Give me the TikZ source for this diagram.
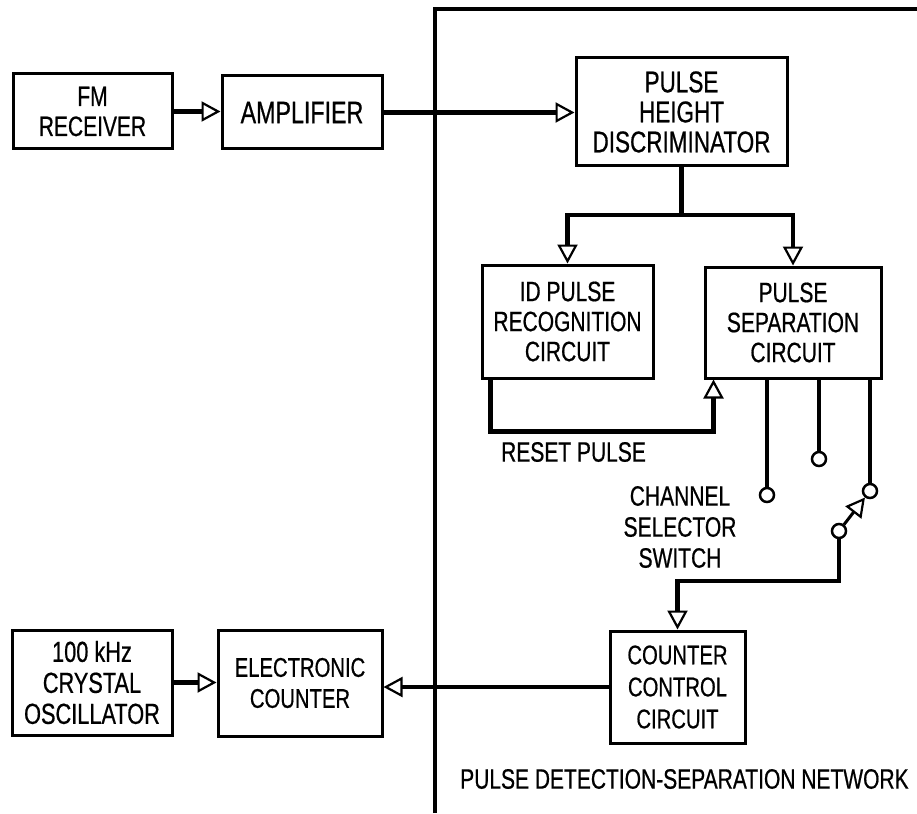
\documentclass[tikz,border=0pt]{standalone}
\usepackage{fontspec}
\setmainfont{Liberation Sans}[FakeStretch=0.75,FakeBold=0.6]
\usetikzlibrary{arrows.meta}
\newcommand{\fzs}[2]{\fontsize{#1}{#2}\selectfont}
\begin{document}
\begin{tikzpicture}[x=1pt,y=-1pt,
  box/.style={draw, line width=3pt, align=center, inner sep=0pt, font=\fzs{28}{30}},
  wire/.style={line width=4.5pt},
  arr/.style={wire, -{Triangle[open,length=19pt,width=20pt,line width=2.2pt]}},
  term/.style={circle, draw, line width=2.5pt, fill=white, minimum size=14pt, inner sep=0pt},
  lbl/.style={align=center, inner sep=0pt, font=\fzs{28}{30}},
  frame/.style={line width=3.2pt}]
\fill[white] (0,0) rectangle (917,813);
\useasboundingbox (0,0) rectangle (917,813);

% boxes
\node[box, minimum width=159pt, minimum height=75pt] (fm) at (92.5,111.5) {FM\\RECEIVER};
\node[box, font=\fzs{31}{30}, minimum width=160pt, minimum height=73pt] (amp) at (302,112.5) {AMPLIFIER};
\node[box, font=\fzs{30}{30}, minimum width=211pt, minimum height=108pt] (phd) at (681.5,112) {PULSE\\HEIGHT\\DISCRIMINATOR};
\node[box, minimum width=171pt, minimum height=113pt] (idp) at (567.5,321.5) {ID PULSE\\RECOGNITION\\CIRCUIT};
\node[box, minimum width=176pt, minimum height=111pt] (psc) at (793,322.5) {PULSE\\SEPARATION\\CIRCUIT};
\node[box, font=\fzs{29}{31}, minimum width=160pt, minimum height=105pt] (osc) at (92,682.5) {100 kHz\\CRYSTAL\\OSCILLATOR};
\node[box, font=\fzs{27}{31}, minimum width=164pt, minimum height=106pt] (ec) at (300,683) {ELECTRONIC\\COUNTER};
\node[box, font=\fzs{27}{32}, minimum width=135pt, minimum height=112pt] (ccc) at (677.5,687) {COUNTER\\CONTROL\\CIRCUIT};

% frame of the network
\coordinate (fb) at (435,813);
\coordinate (ft) at (435,9);
\coordinate (fr) at (917,9);
\draw[frame] (fb) -- (ft) -- (fr);

% main signal path
\draw[arr] (fm.east) -- (fm.east -| amp.west);
\draw[arr] (amp.east) -- (amp.east -| phd.west);

% branch from discriminator
\coordinate (j) at (681.5,215);
\draw[wire] (phd.south) -- (j);
\draw[arr] (j) -| (idp.north);
\draw[arr] (j) -| (psc.north);

% reset pulse
\draw[arr] ([xshift=10pt]idp.south west) -- ++(0,52) -| ([xshift=10pt]psc.south west);
\node[lbl] (rst) at (573.5,452) {RESET PULSE};

% separation outputs and selector switch
\node[term] (t1) at (767,495) {};
\node[term] (t2) at (819,459) {};
\node[term] (t3) at (870,491) {};
\draw[wire] (t1 |- psc.south) -- (t1.north);
\draw[wire] (t2 |- psc.south) -- (t2.north);
\draw[wire] (t3 |- psc.south) -- (t3.north);
\node[term] (pv) at (839,531) {};
\draw[arr, line width=3pt] (pv) -- (t3);
\coordinate (k) at (839,581);
\draw[arr] (pv.south) -- (k) -| (ccc.north);
\node[lbl, font=\fzs{28}{31}] (css) at (680,527) {CHANNEL\\SELECTOR\\SWITCH};

% bottom path
\draw[arr] (osc.east) -- (osc.east -| ec.west);
\draw[arr] (ccc.west) -- (ccc.west -| ec.east);

\node[lbl, anchor=west] (net) at (460,779) {PULSE DETECTION-SEPARATION NETWORK};
\end{tikzpicture}
\end{document}
